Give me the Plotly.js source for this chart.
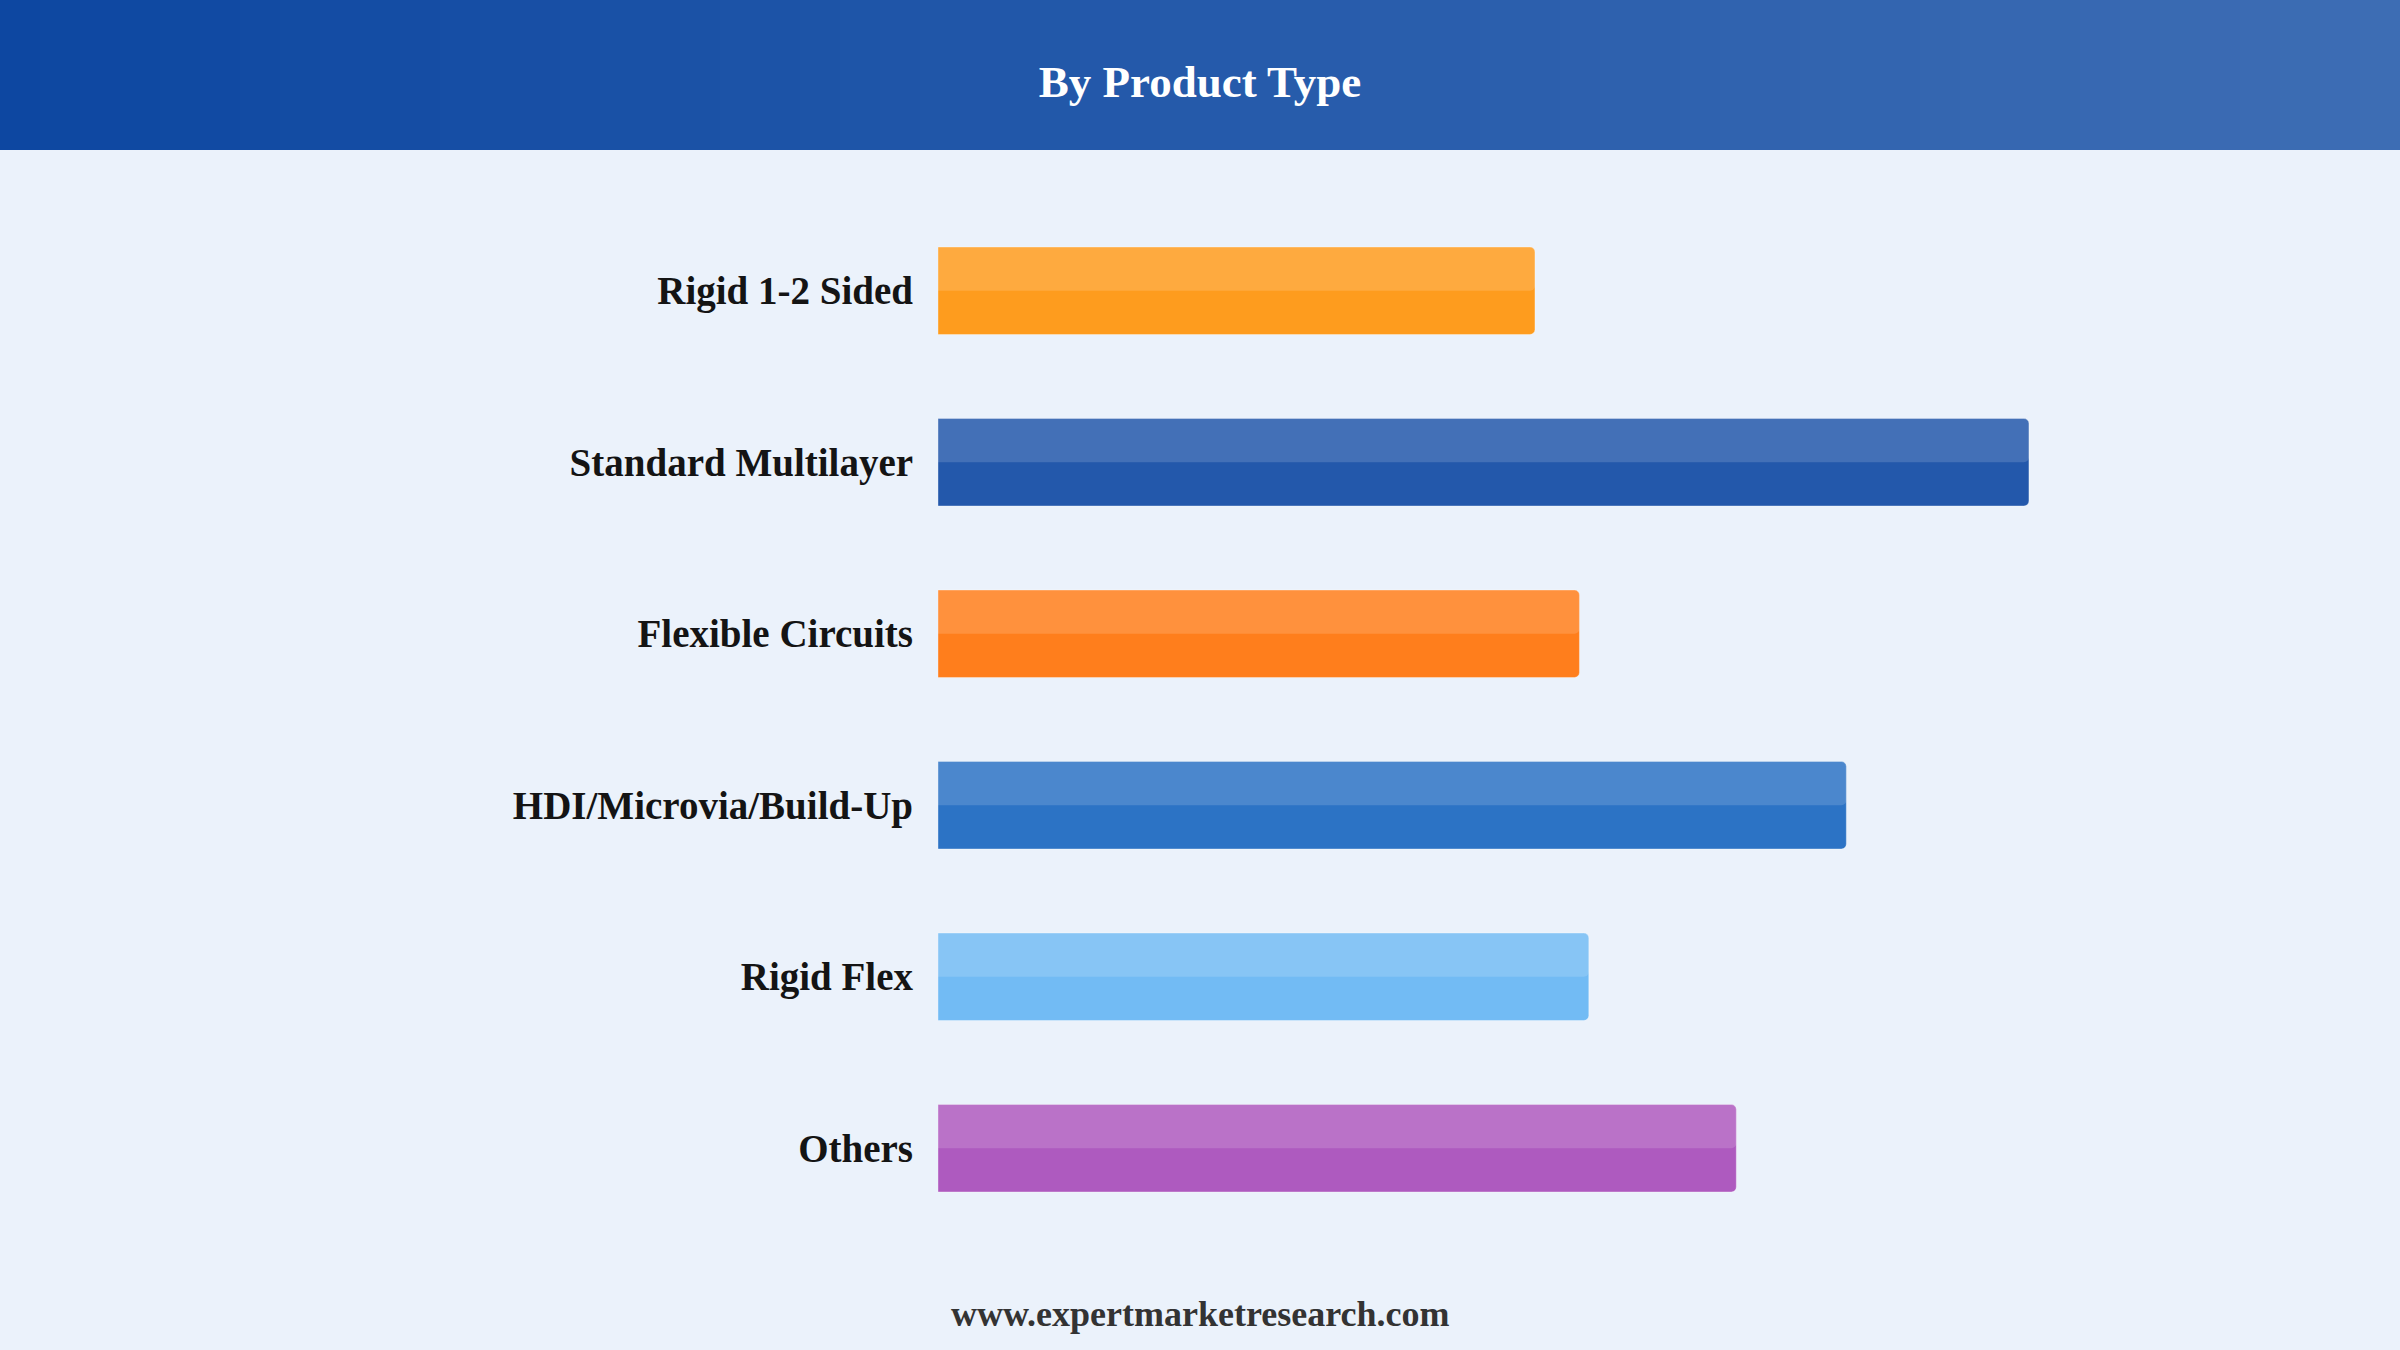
<!DOCTYPE html>
<html>
<head>
<meta charset="utf-8">
<script src="https://cdn.plot.ly/plotly-3.0.1.min.js"></script>
<style>
  html, body { margin: 0; padding: 0; background: #ebf2fb; }
  #chart { width: 2400px; height: 1350px; }
</style>
</head>
<body>
<div id="chart"></div>
<script>
// ---- data ----
const categories = ["Rigid 1-2 Sided", "Standard Multilayer", "Flexible Circuits", "HDI/Microvia/Build-Up", "Rigid Flex", "Others"];
const shares = [12.75, 23.3, 13.7, 19.4, 13.9, 17.05];
const barColors = ["#fe9c1e", "#2358ab", "#ff7e1c", "#2c73c5", "#72bbf4", "#ae5abf"];
const titleText = "By Product Type";
const sourceText = "www.expertmarketresearch.com";

// ---- layout geometry ----
const W = 2400, Hpx = 1350;
const mL = 938, mR = 151, mT = 205, mB = 116;
const plotW = W - mL - mR, plotH = Hpx - mT - mB;
const headerH = 150;

// header gradient strips (decoration)
const c0 = [13, 71, 161], c1 = [61, 109, 180];
const shapes = [];
const nStrips = 60;
for (let i = 0; i < nStrips; i++) {
  const t = i / (nStrips - 1);
  const col = c0.map((v, k) => Math.round(v + (c1[k] - v) * t));
  const px0 = i * W / nStrips, px1 = (i + 1) * W / nStrips + 1;
  shapes.push({
    type: "rect", xref: "paper", yref: "paper", layer: "below",
    x0: (px0 - mL) / plotW, x1: (px1 - mL) / plotW,
    y0: (Hpx - mB - headerH) / plotH, y1: (Hpx - mB + 2) / plotH,
    fillcolor: "rgb(" + col.join(",") + ")", line: { width: 0 }
  });
}

const barWidth = 0.51;
const traces = [
  {
    type: "bar", orientation: "h",
    x: shares, y: categories,
    width: categories.map(() => barWidth),
    marker: { color: barColors, cornerradius: 5, line: { color: "rgba(255,255,255,0.35)", width: 1 } },
    hoverinfo: "skip"
  },
  {
    type: "bar", orientation: "h",
    x: shares, y: categories,
    width: categories.map(() => barWidth / 2),
    offset: categories.map(() => -barWidth / 2),
    marker: { color: "rgba(255,255,255,0.15)", cornerradius: 5, line: { width: 0 } },
    hoverinfo: "skip"
  }
];

const layout = {
  width: W, height: Hpx,
  margin: { l: mL, r: mR, t: mT, b: mB, pad: 0 },
  paper_bgcolor: "#ebf2fb",
  plot_bgcolor: "rgba(0,0,0,0)",
  barmode: "overlay",
  showlegend: false,
  title: {
    text: "<b>" + titleText + "</b>",
    font: { family: "Liberation Serif, Times New Roman, serif", size: 45, color: "#ffffff" },
    x: 0.5, xref: "container", xanchor: "center",
    y: 1 - 81 / Hpx, yref: "container", yanchor: "middle"
  },
  xaxis: {
    range: [0, 28], visible: false, showgrid: false, zeroline: false, fixedrange: true
  },
  yaxis: {
    type: "category",
    range: [5.5, -0.5],
    showgrid: false, zeroline: false, showline: false,
    ticks: "", ticklabelstandoff: 24,
    tickfont: { family: "Liberation Serif, Times New Roman, serif", size: 39, color: "#141414", weight: "bold" },
    fixedrange: true
  },
  shapes: shapes,
  annotations: [{
    text: "<b>" + sourceText + "</b>",
    xref: "paper", yref: "paper",
    x: (1200 - mL) / plotW, y: 0, yshift: -80,
    xanchor: "center", yanchor: "middle", showarrow: false,
    font: { family: "Liberation Serif, Times New Roman, serif", size: 36, color: "#333333" }
  }]
};

Plotly.newPlot("chart", traces, layout, { staticPlot: true, displayModeBar: false });
</script>
</body>
</html>
